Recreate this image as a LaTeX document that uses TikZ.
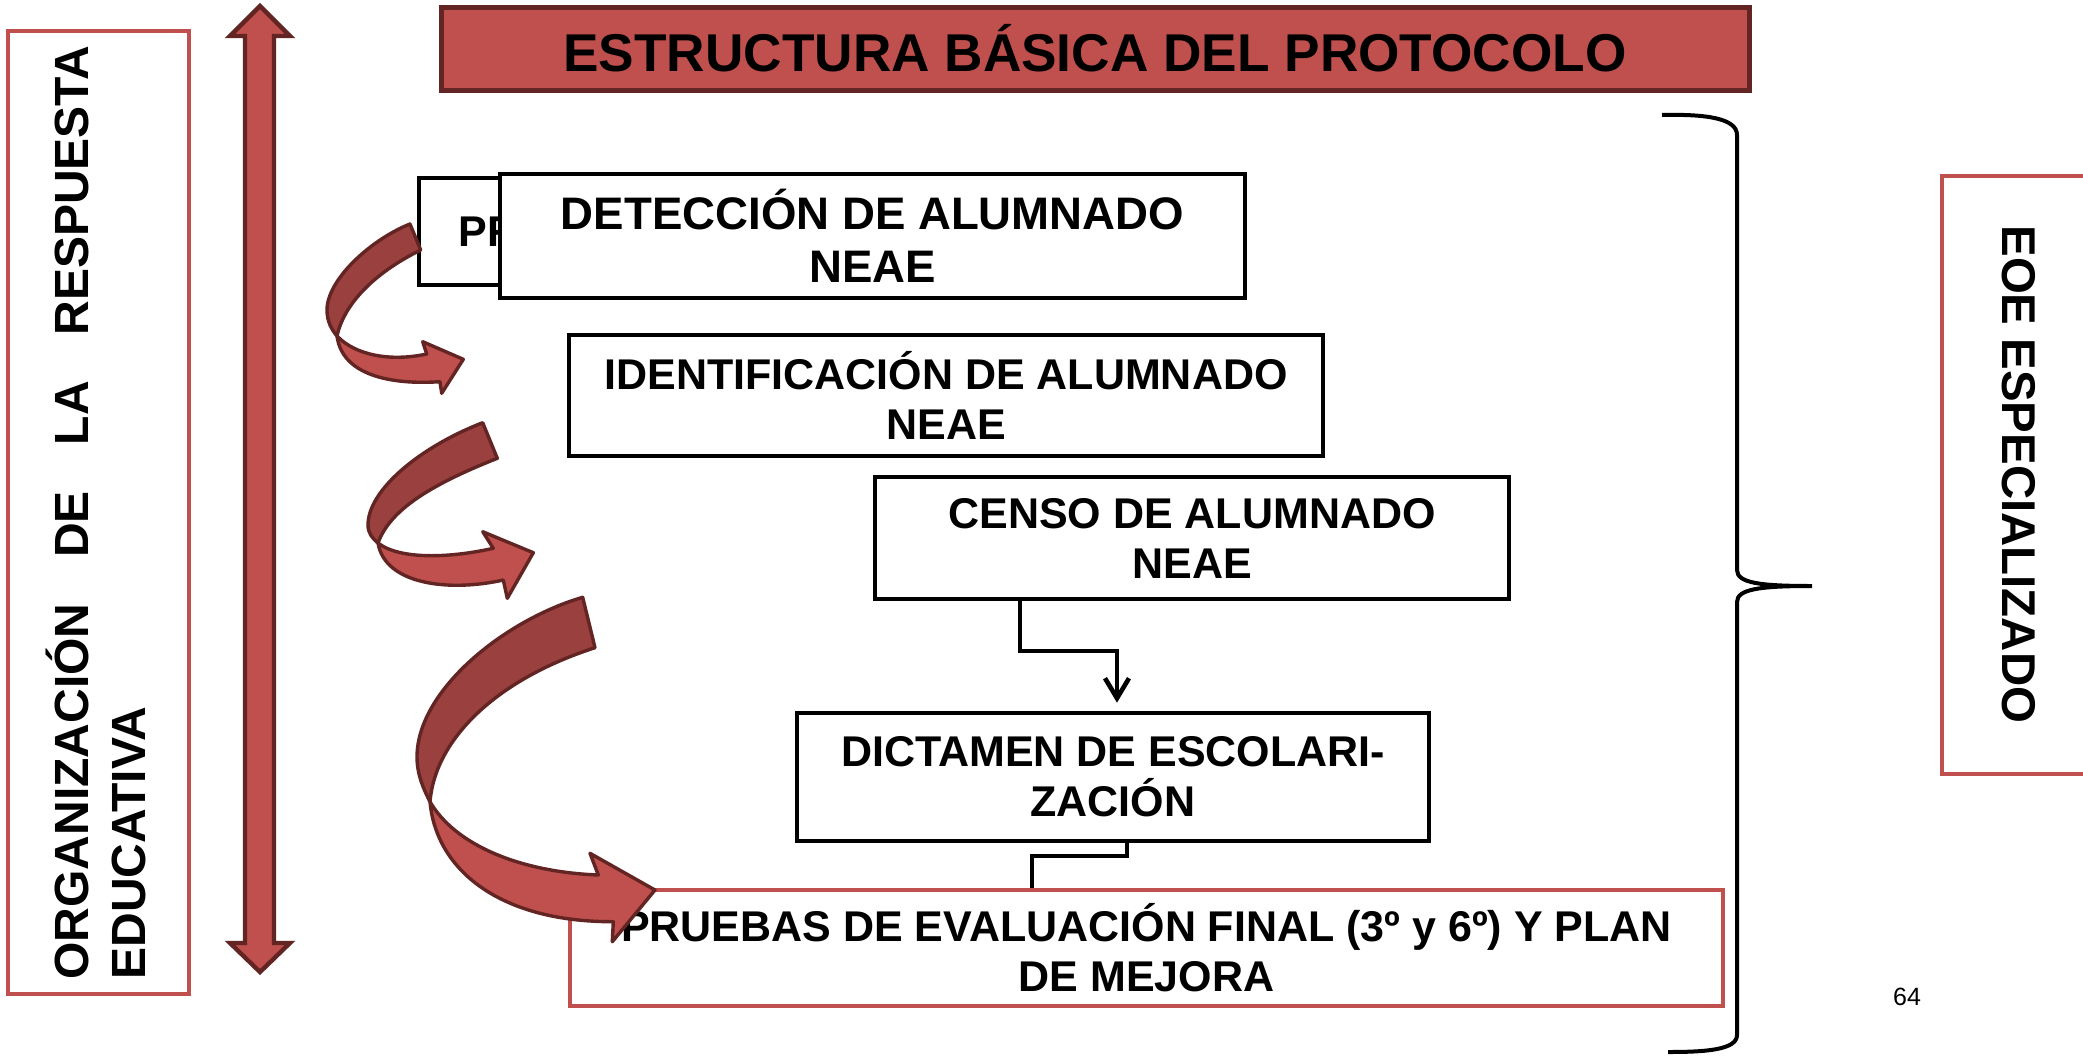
\documentclass[tikz,border=0pt]{standalone}
\usepackage{fontspec}
\setmainfont{Liberation Sans}
\usetikzlibrary{arrows.meta}
\definecolor{lred}{HTML}{C0504D}
\definecolor{dred}{HTML}{632523}
\definecolor{mred}{HTML}{9A403E}
\begin{document}
\begin{tikzpicture}[x=0.5pt,y=-0.5pt,
  blackbox/.style={draw=black, line width=2.3pt, fill=white, inner sep=0pt, align=center,
     font=\fontsize{21.5}{25}\selectfont\bfseries},
  redbox/.style={draw=lred, line width=2pt, fill=white, inner sep=0pt, align=center,
     font=\fontsize{21.5}{25}\selectfont\bfseries},
  titlebox/.style={draw=dred, line width=2.5pt, fill=lred, inner sep=0pt,
     font=\fontsize{26.6}{30}\selectfont\bfseries},
  conn/.style={draw=black, line width=2pt},
  ribbon/.style={draw=dred, line width=1.7pt, line join=round},
  sidetxt/.style={inner sep=0pt, font=\fontsize{24}{28}\selectfont\bfseries}]
\useasboundingbox (0,0) rectangle (2083,1055);
\clip (0,0) rectangle (2083,1055);
\fill[white] (0,0) rectangle (2083,1055);

% left box and its text
\node[draw=lred, line width=2pt, minimum width=90.5pt, minimum height=481.5pt, inner sep=0pt] (leftbox) at (98.5,512.5) {};
\node[sidetxt, rotate=90, anchor=base west] (org1) at (88,980)
  {\hbox to 467pt{ORGANIZACIÓN\hfill DE\hfill LA\hfill RESPUESTA}};
\node[sidetxt, rotate=90, anchor=base west] (org2) at (145,980) {EDUCATIVA};

% double arrow
\draw[ribbon, fill=lred, line width=2.2pt, line join=miter]
  (260,6) -- (290,36) -- (274,36) -- (274,943) -- (290,943) -- (260,972)
  -- (230,943) -- (245,943) -- (245,36) -- (230,36) -- cycle;

% title
\node[titlebox, minimum width=654pt, minimum height=41.5pt] (title) at (1095,48.5)
  {ESTRUCTURA BÁSICA DEL PROTOCOLO};

% boxes
\node[blackbox, minimum width=70.5pt, minimum height=53.5pt] (pr) at (489.5,231.5) {};
\node[anchor=base west, inner sep=0pt, font=\fontsize{21.5}{25}\selectfont\bfseries] (prt) at (458,246.7) {PR};
\node[blackbox, font=\fontsize{22.8}{26.5}\selectfont\bfseries, minimum width=372.5pt, minimum height=62pt] (det) at (872.5,236)
  {DETECCIÓN DE ALUMNADO\\NEAE};
\node[blackbox, minimum width=377pt, minimum height=60.5pt] (ide) at (946,395.5)
  {IDENTIFICACIÓN DE ALUMNADO\\NEAE};
\node[blackbox, minimum width=317pt, minimum height=61pt] (cen) at (1192,538)
  {CENSO DE ALUMNADO\\NEAE};
\node[blackbox, minimum width=316pt, minimum height=64pt] (dic) at (1113,777)
  {DICTAMEN DE ESCOLARI-\\ZACIÓN};

% connectors
\coordinate (k1) at (1020,651);
\coordinate (k2) at (1117,651);
\coordinate (k3) at (1127,856);
\coordinate (k4) at (1032,856);
\draw[conn, -{Straight Barb[length=10pt, width=12pt, line width=2.3pt]}, shorten >=4pt]
  (cen.south -| k1) -- (k1) -- (k2) -- (dic.north -| k2);
\draw[conn] (dic.south -| k3) -- (k3) -- (k4) -- (k4 |- 0,889);

\node[redbox, minimum width=576.5pt, minimum height=58pt] (pru) at (1146.5,948)
  {PRUEBAS DE EVALUACIÓN FINAL (3º y 6º) Y PLAN\\DE MEJORA};

% curved arrows
\draw[ribbon, fill=mred] (410,224) .. controls (370,240) and (327,280) .. (327,310)
  .. controls (327,322) and (332,330) .. (337,336)
  .. controls (345,300) and (380,270) .. (420.7,250) -- cycle;
\draw[ribbon, fill=lred] (337,336) .. controls (342,375) and (390,385) .. (440,381.7)
  -- (441.7,393.3) -- (463.3,359.3) -- (422.7,341.7) -- (426.7,354)
  .. controls (390,362) and (355,355) .. cycle;

\draw[ribbon, fill=mred] (482.7,422.7) .. controls (420,447) and (368,490) .. (368,525)
  .. controls (368,533) and (372,538) .. (378,543)
  .. controls (390,510) and (430,485) .. (497.3,458.3) -- cycle;
\draw[ribbon, fill=lred] (378,543) .. controls (385,585) and (450,592) .. (503.3,580)
  -- (507.3,598.3) -- (533.3,552.7) -- (482.7,531.7) -- (493.3,548.3)
  .. controls (450,558) and (400,560) .. cycle;

\draw[ribbon, fill=mred] (582.7,597.3) .. controls (505,620) and (417,690) .. (417,757)
  .. controls (417,775) and (424,790) .. (430,801.7)
  .. controls (435,740) and (495,680) .. (595,647.7) -- cycle;
\draw[ribbon, fill=lred] (430,801.7) .. controls (436,870) and (500,922) .. (613.3,921.7)
  -- (612.3,941.7) -- (655,890) -- (590,853.3) -- (598.3,875)
  .. controls (520,872) and (455,845) .. cycle;

% brace
\draw[line width=2pt] (1662,115) .. controls (1705,114) and (1737,118) .. (1737,135)
  -- (1737,570) .. controls (1737,583) and (1760,586) .. (1812,586)
  .. controls (1760,586) and (1737,589) .. (1737,602)
  -- (1737,1035) .. controls (1737,1050) and (1705,1052) .. (1668,1052);

% right box
\draw[draw=lred, line width=2pt] (1942,176) rectangle (2110,774);
\node[sidetxt, font=\fontsize{23.7}{28}\selectfont\bfseries, rotate=-90, anchor=base west] (eoe) at (2002,225) {EOE ESPECIALIZADO};

% page number
\node[inner sep=0pt, font=\fontsize{12.5}{14}\selectfont] (pg) at (1907,997) {64};
\end{tikzpicture}
\end{document}
